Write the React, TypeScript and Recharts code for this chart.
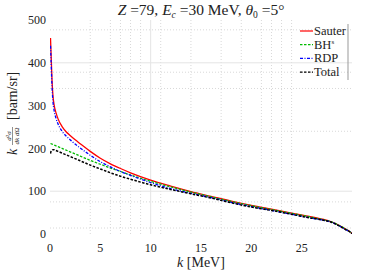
import React from 'react';
import { LineChart, Line, XAxis, YAxis, ReferenceLine } from 'recharts';

const kValues = [0.05, 0.1, 0.2, 0.3, 0.4, 0.6, 0.8, 1.2, 1.6, 2, 2.5, 3, 4, 5, 6, 7, 8, 10, 12, 14, 16, 18, 20, 22, 24, 26, 27, 28, 28.8, 29.4, 29.8, 30];
const sauter = [458, 425, 360, 322, 303, 283, 269, 251, 239, 230, 220, 211, 193, 177, 164, 153, 143, 126, 112, 99, 88, 77, 67, 58, 49, 40, 35, 28, 19, 11, 5, 1];
const bhs = [211, 211, 210, 209, 208, 206, 204, 200, 196, 192, 187, 182, 172, 163, 154, 146, 138, 123, 110, 98, 87, 76, 66, 57, 48, 39, 34, 28, 19, 11, 5, 1];
const rdp = [440, 408, 345, 308, 290, 270, 257, 240, 229, 220, 210, 201, 184, 169, 157, 146, 137, 120, 106, 95, 85, 74, 64, 55, 46, 37, 33, 27, 18, 10, 5, 1];
const total = [188, 193, 196, 197, 197, 195, 193, 189, 185, 181, 176, 171, 161, 152, 143, 135, 128, 115, 104, 94, 84, 73, 63, 55, 46, 37, 33, 27, 18, 10, 5, 1];

const xTicks = [0, 5, 10, 15, 20, 25];
const yTicks = [0, 100, 200, 300, 400, 500];
const xMajorGrid = [10];
const yMajorGrid = [100, 400];
const xMinorGrid = [4, 6, 7, 8, 9, 11, 14, 17, 19, 21, 22, 23, 24];
const yMinorGrid = [14, 75, 240, 340, 378, 477];

const legendItems = [
  { name: 'Sauter', color: '#ff0000', dash: undefined as string | undefined },
  { name: 'BH', sup: 's', color: '#00bb00', dash: '2.5 1.5' },
  { name: 'RDP', color: '#0000ff', dash: '3 1.5 1 1.5' },
  { name: 'Total', color: '#000000', dash: '2.5 1.5' },
];

const data = kValues.map((k, i) => ({ k, sauter: sauter[i], bhs: bhs[i], rdp: rdp[i], total: total[i] }));

const FONT = 'Liberation Serif, DejaVu Serif, serif';
const tickStyle = { fontSize: 12, fill: '#222', fontFamily: FONT };

export default function App() {
  return (
    <div style={{ position: 'absolute', left: 0, top: 0, width: 389, height: 272, background: '#fff' }}>
      <LineChart width={389} height={272} data={data} margin={{ top: 20, right: 37, bottom: 0, left: 0 }}>
        <XAxis type="number" dataKey="k" domain={[0, 30]} ticks={xTicks} axisLine={false} tickLine={false}
          tickSize={6} tickMargin={3} height={38} tick={tickStyle} allowDataOverflow />
        <YAxis type="number" domain={[0, 500]} ticks={yTicks} axisLine={false} tickLine={false}
          tickSize={0} tickMargin={4} width={50} tick={tickStyle} allowDataOverflow />
        {xMinorGrid.map((v) => (
          <ReferenceLine key={'xm' + v} x={v} stroke="#d8d8d8" strokeDasharray="1 2" strokeWidth={1} />
        ))}
        {yMinorGrid.map((v) => (
          <ReferenceLine key={'ym' + v} y={v} stroke="#d8d8d8" strokeDasharray="1 2" strokeWidth={1} />
        ))}
        {xMajorGrid.map((v) => (
          <ReferenceLine key={'xM' + v} x={v} stroke="#e4e4e4" strokeWidth={1} />
        ))}
        {yMajorGrid.map((v) => (
          <ReferenceLine key={'yM' + v} y={v} stroke="#e4e4e4" strokeWidth={1} />
        ))}
        <Line type="monotone" dataKey="sauter" stroke="#ff0000" strokeWidth={1.3} dot={false} isAnimationActive={false} />
        <Line type="monotone" dataKey="bhs" stroke="#00bb00" strokeWidth={1.3} strokeDasharray="2.5 1.5" dot={false} isAnimationActive={false} />
        <Line type="monotone" dataKey="rdp" stroke="#0000ff" strokeWidth={1.3} strokeDasharray="3 1.5 1 1.5" dot={false} isAnimationActive={false} />
        <Line type="monotone" dataKey="total" stroke="#000000" strokeWidth={1.5} strokeDasharray="2.5 1.5" dot={false} isAnimationActive={false} />
      </LineChart>
      <svg width={389} height={272} style={{ position: 'absolute', left: 0, top: 0, pointerEvents: 'none' }}>
        <text x={201} y={15} textAnchor="middle" fontFamily={FONT} fontSize={15.5} fill="#222">
          <tspan fontStyle="italic">Z</tspan>
          <tspan> =79, </tspan>
          <tspan fontStyle="italic">E</tspan>
          <tspan fontSize={9.5} dy={2.5} fontStyle="italic">c</tspan>
          <tspan dy={-2.5}> =30 MeV, </tspan>
          <tspan fontStyle="italic">θ</tspan>
          <tspan fontSize={9.5} dy={2.5}>0</tspan>
          <tspan dy={-2.5}> =5°</tspan>
        </text>
        <text x={201} y={267} textAnchor="middle" fontFamily={FONT} fontSize={14} fill="#222">
          <tspan fontStyle="italic">k</tspan>
          <tspan> [MeV]</tspan>
        </text>
        <g transform="translate(12,112) rotate(-90)" fontFamily={FONT} fill="#222">
          <text x={-43} y={5} fontSize={14} fontStyle="italic">k</text>
          <text x={-24} y={-1} fontSize={7} textAnchor="middle">
            <tspan fontStyle="italic">d</tspan>
            <tspan fontSize={5} dy={-2}>2</tspan>
            <tspan dy={2} fontStyle="italic">σ</tspan>
          </text>
          <line x1={-33} x2={-15} y1={0.5} y2={0.5} stroke="#222" strokeWidth={0.5} />
          <text x={-24} y={7} fontSize={7} textAnchor="middle" fontStyle="italic">dk dΩ</text>
          <text x={-8} y={5} fontSize={14}>[barn/sr]</text>
        </g>
        <line x1={348} x2={348} y1={24} y2={80} stroke="#999" strokeWidth={1} />
        {legendItems.map((it, i) => {
          const cy = 31 + i * 13.7;
          return (
            <g key={it.name}>
              <line x1={300} x2={313} y1={cy} y2={cy} stroke={it.color} strokeWidth={1.2} strokeDasharray={it.dash} />
              <text x={314} y={cy + 4} fontFamily={FONT} fontSize={12.5} fill="#222">
                {it.name}
                {it.sup ? <tspan fontSize={7} dy={-5}>{it.sup}</tspan> : null}
              </text>
            </g>
          );
        })}
      </svg>
    </div>
  );
}
